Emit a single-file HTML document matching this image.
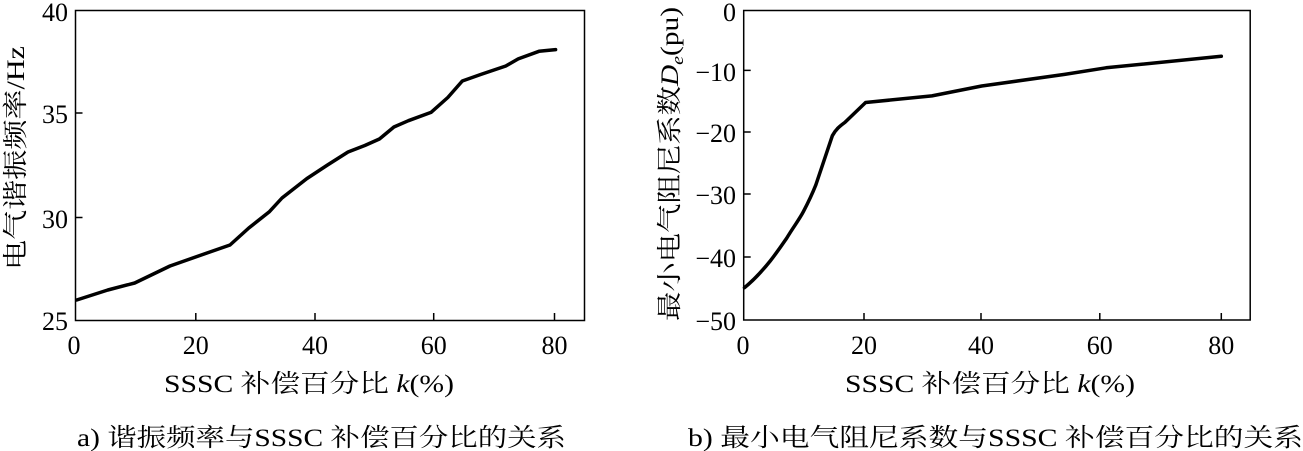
<!DOCTYPE html>
<html><head><meta charset="utf-8"><style>
html,body{margin:0;padding:0;background:#fff;}
svg{display:block;}
text{font-family:"Liberation Serif","Noto Serif CJK SC","Noto Sans CJK SC",serif;fill:#000;}
</style></head><body>
<svg width="1303" height="451" viewBox="0 0 1303 451" xmlns="http://www.w3.org/2000/svg">
<g fill="none" stroke="#000" stroke-width="1.5">
<rect x="75.5" y="10.5" width="509" height="310"/>
<path d="M195.8 320v-7M315 320v-7M433.7 320v-7M554.5 320v-7M75.5 113h7M75.5 217.5h7"/>
<rect x="743.7" y="10.5" width="506.5" height="309.5"/>
<path d="M864 320v-7M981 320v-7M1099.8 320v-7M1221.3 320v-7M743.7 70.4h7M743.7 132h7M743.7 194h7M743.7 257h7"/>
</g>
<g fill="none" stroke="#000" stroke-width="3.5" stroke-linejoin="round" stroke-linecap="round">
<polyline points="76.7,300 107.8,290 134.7,283 170,266 207,253 230,245 248.8,228 269.5,211.6 282,198 306.8,178.6 327.5,165 348,152 364.8,145.5 379.4,139 393.9,127 408.4,120.7 431,112.4 447.8,97.5 462.3,81 481,74.4 505.8,66 518.2,58.9 539,51.3 555.6,49.6"/>
<path d="M744.5,287.7 C755,279 763,270 770.2,261 C778,251 782,245 786.8,238 C794,226 799,220 803.4,211.6 C810,199 813,192 815.8,185 L832.4,135.6 C836,129 840,126 844.9,122.4 L865.6,102.5 L931.9,95.9 L981.7,86 L1064.6,74.4 L1106,67.8 L1221.3,56.2"/>
</g>
<g font-size="26" text-anchor="middle">
<text x="74" y="354">0</text><text x="195.8" y="354">20</text><text x="315" y="354">40</text><text x="433.7" y="354">60</text><text x="554.5" y="354">80</text>
<text x="743" y="354">0</text><text x="864" y="354">20</text><text x="981" y="354">40</text><text x="1099.8" y="354">60</text><text x="1221.3" y="354">80</text>
</g>
<g font-size="26" text-anchor="end">
<text x="68" y="21">40</text><text x="68" y="123">35</text><text x="68" y="228">30</text><text x="68" y="330">25</text>
<text x="736" y="21">0</text><text x="736" y="81">−10</text><text x="736" y="142">−20</text><text x="736" y="204">−30</text><text x="736" y="267">−40</text><text x="736" y="330">−50</text>
</g>
<text x="164" y="392" font-size="25" textLength="290" lengthAdjust="spacingAndGlyphs">SSSC 补偿百分比 <tspan font-style="italic">k</tspan>(%)</text>
<text x="845" y="392" font-size="25" textLength="290" lengthAdjust="spacingAndGlyphs">SSSC 补偿百分比 <tspan font-style="italic">k</tspan>(%)</text>
<text x="77" y="446" font-size="25" textLength="489" lengthAdjust="spacingAndGlyphs">a) 谐振频率与SSSC 补偿百分比的关系</text>
<text x="688" y="446" font-size="25" textLength="615" lengthAdjust="spacingAndGlyphs">b) 最小电气阻尼系数与SSSC 补偿百分比的关系</text>
<text transform="translate(24,158) rotate(-90)" font-size="25" text-anchor="middle" textLength="224" lengthAdjust="spacingAndGlyphs">电气谐振频率/Hz</text>
<text transform="translate(678,164) rotate(-90)" font-size="25" text-anchor="middle" textLength="314" lengthAdjust="spacingAndGlyphs">最小电气阻尼系数<tspan font-style="italic">D</tspan><tspan font-style="italic" font-size="17" dy="5">e</tspan><tspan dy="-5">(pu)</tspan></text>
</svg>
</body></html>
